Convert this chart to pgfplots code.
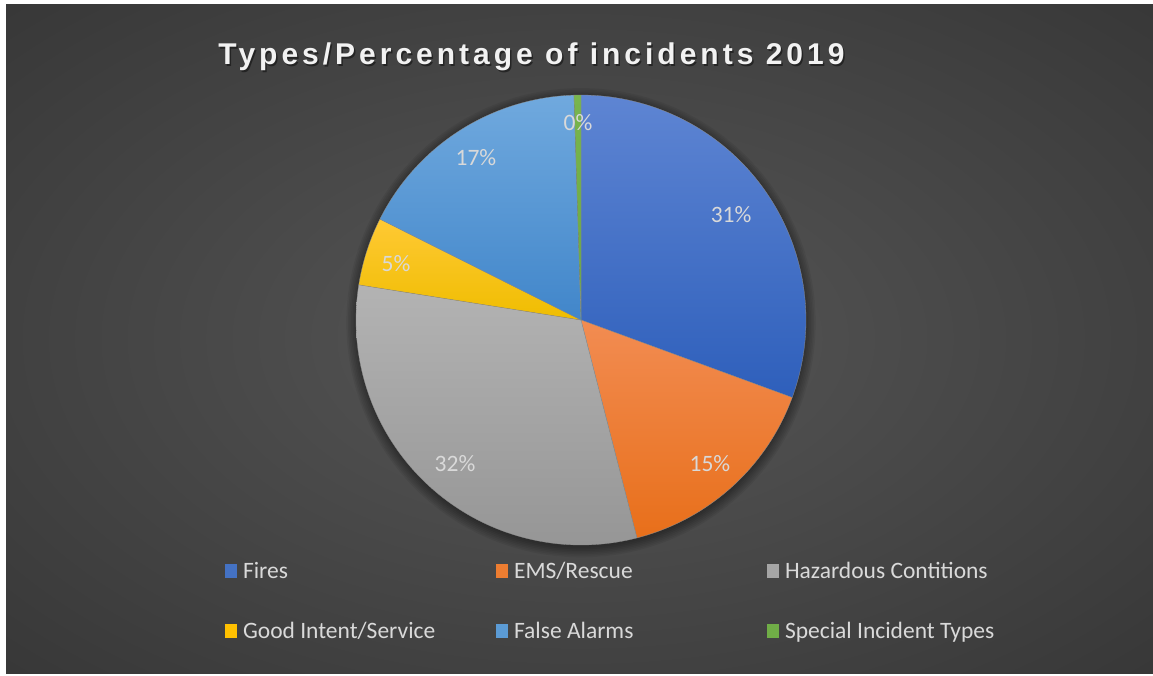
\documentclass[border=0pt]{standalone}
\usepackage{pgfplots}
\pgfplotsset{compat=1.18}
\usepackage{pgfplotstable}
\usepackage{fontspec}
\setmainfont{Carlito}
\newfontfamily\titlefont{Liberation Sans}[LetterSpace=13.3]

\definecolor{top0}{HTML}{5E85D3}\definecolor{bot0}{HTML}{2E5FBB}
\definecolor{top1}{HTML}{F28C52}\definecolor{bot1}{HTML}{E86F1A}
\definecolor{top2}{HTML}{B3B3B3}\definecolor{bot2}{HTML}{969696}
\definecolor{top3}{HTML}{FFC934}\definecolor{bot3}{HTML}{EFBD00}
\definecolor{top4}{HTML}{70A9DE}\definecolor{bot4}{HTML}{4186CA}
\definecolor{top5}{HTML}{78B54E}\definecolor{bot5}{HTML}{6AA840}
\definecolor{leg0}{HTML}{4472C4}
\definecolor{leg1}{HTML}{ED7D31}
\definecolor{leg2}{HTML}{A5A5A5}
\definecolor{leg3}{HTML}{FFC000}
\definecolor{leg4}{HTML}{5B9BD5}
\definecolor{leg5}{HTML}{70AD47}
\definecolor{bgin}{HTML}{585858}
\definecolor{bgmid}{HTML}{4E4E4E}
\definecolor{bgout}{HTML}{2B2B2B}
\definecolor{labtext}{HTML}{D9D9D9}

\pgfdeclareradialshading{bgshade}{\pgfpoint{0bp}{0bp}}{color(0bp)=(bgin); color(10bp)=(bgmid); color(50bp)=(bgout)}

\pgfplotstableread[col sep=comma]{
name,value
Fires,30.6
EMS/Rescue,15.4
Hazardous Contitions,31.5
Good Intent/Service,4.9
False Alarms,17.1
Special Incident Types,0.5
}\piedata

\begin{document}
\begin{tikzpicture}
\fill[white] (0pt,0pt) rectangle (1153pt,-675pt);
\shade[shading=bgshade] (6pt,-4pt) rectangle (1153pt,-673pt);
\begin{axis}[
  hide axis, x=225pt, y=225pt, xmin=-1, xmax=1, ymin=-1, ymax=1,
  anchor=origin, at={(581pt,-320pt)}, clip=false,
  legend columns=3,
  legend style={draw=none, fill=none, at={(-0.291,-0.0338)}, anchor=north west,
    inner sep=0pt, outer sep=0pt, row sep=41pt, column sep=0pt,
    font=\fontsize{23.5}{28}\selectfont, text=labtext, nodes={inner sep=0pt}},
  legend cell align=left,
  legend image code/.code={},
]
\pgfplotsinvokeforeach{0,1,...,6}{
  \fill[black, opacity=0.06] (axis cs:0,-0.012) circle[radius={225pt+#1*1.6pt}];
}
\def\startang{90}
\pgfplotsforeachungrouped \i in {0,...,5}{%
  \pgfplotstablegetelem{\i}{value}\of\piedata
  \pgfmathsetmacro\endang{\startang-3.6*\pgfplotsretval}%
  \edef\doplot{\noexpand\addplot[draw=black!45, line width=0.3pt, top color=top\i, bottom color=bot\i, domain=\endang:\startang, samples=90, variable=\noexpand\t] ({cos(\noexpand\t)},{sin(\noexpand\t)}) -- (axis cs:0,0) -- cycle;}%
  \doplot
  \pgfplotstablegetelem{\i}{name}\of\piedata
  \addlegendentryexpanded{\noexpand\makebox[271pt][l]{\noexpand\rule[-6pt]{0pt}{24pt}\noexpand\textcolor{leg\i}{\noexpand\rule[0.5pt]{12pt}{14pt}}\noexpand\hspace{6pt}\pgfplotsretval}}%
  \global\let\startang\endang
}
\begin{scope}[every node/.style={text=labtext, font=\fontsize{23.5}{28}\selectfont}]
\node at (axis cs:0.667,0.467) {31\%};
\node at (axis cs:0.573,-0.640) {15\%};
\node at (axis cs:-0.560,-0.636) {32\%};
\node at (axis cs:-0.822,0.253) {5\%};
\node at (axis cs:-0.467,0.720) {17\%};
\node at (axis cs:-0.013,0.876) {0\%};
\end{scope}
\end{axis}
\node[anchor=base, text=black, opacity=0.45] at (533pt,-66.3pt) {\titlefont\bfseries\fontsize{30}{36}\selectfont Types/Percentage of incidents 2019};
\node[anchor=base, text=white!95!black] at (531.5pt,-64.3pt) {\titlefont\bfseries\fontsize{30}{36}\selectfont Types/Percentage of incidents 2019};
\end{tikzpicture}
\end{document}
